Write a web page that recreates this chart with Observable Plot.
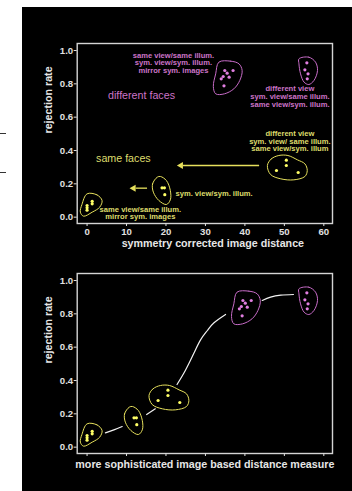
<!DOCTYPE html>
<html><head><meta charset="utf-8">
<script src="https://cdn.jsdelivr.net/npm/d3@7"></script>
<script src="https://cdn.jsdelivr.net/npm/@observablehq/plot@0.6"></script>
<style>
body{margin:0;background:#fff;width:352px;height:491px;overflow:hidden;position:relative;font-family:"Liberation Sans",Arial,sans-serif}
#bg{position:absolute;left:22px;top:7px;width:330px;height:484px;background:#000}
.dash{position:absolute;left:0;width:6px;height:1px;background:#333}
#p1,#p2{position:absolute;left:22px}
#p1{top:30px}
#p2{top:260px}
</style></head><body>
<div id="bg"></div>
<div class="dash" style="top:133px"></div>
<div class="dash" style="top:172px"></div>
<div id="p1"></div>
<div id="p2"></div>
<script>
// ---- data ----
const yTicks = [0, 0.2, 0.4, 0.6, 0.8, 1.0];
const xTicks = [0, 10, 20, 30, 40, 50, 60];
const xTitleTop = "symmetry corrected image distance";
const xTitleBottom = "more sophisticated image based distance measure";
const yTitle = "rejection rate";

const groupNames = ["g1", "g2", "g3", "pA", "pB"];
const groupKind = ["same", "same", "same", "diff", "diff"];
// horizontal position change of each group in the lower chart
const groupShiftBottom = [0, -7.1, -30, 4.6, 0];

const pointGroup = ["g1","g1","g1","g1","g1","g2","g2","g2","g3","g3","g3","g3",
  "pA","pA","pA","pA","pA","pA","pA","pB","pB","pB","pB"];
const pointX = [0, 0, 0, 1.3, 1.3, 19.0, 19.6, 19.7, 48.0, 50.5, 50.5, 53.5,
  34.9, 35.5, 34.5, 36.0, 34.0, 37.0, 34.7, 55.7, 55.2, 56.0, 55.8];
const pointY = [0.07, 0.056, 0.042, 0.095, 0.08, 0.176, 0.176, 0.135, 0.28, 0.342, 0.31, 0.268,
  0.88, 0.864, 0.844, 0.84, 0.83, 0.88, 0.788, 0.926, 0.884, 0.86, 0.83];

// hand-drawn outlines around each group
const loopGroup = ["g1","g1","g1","g1","g1","g1","g1","g1",
  "g2","g2","g2","g2","g2","g2","g2","g2","g2",
  "g3","g3","g3","g3","g3","g3","g3","g3","g3","g3","g3",
  "pA","pA","pA","pA","pA","pA","pA","pA","pA","pA",
  "pB","pB","pB","pB","pB","pB","pB","pB","pB"];
const loopX = [0, 2.5, 3.8, 3.2, 1.3, -0.9, -1.7, -1.3,
  17.8, 16.6, 16.8, 18.2, 20.1, 21.1, 21.1, 20.1, 18.6,
  45.7, 46.7, 48.6, 50.9, 53.3, 55.2, 55.8, 55.2, 52.4, 49.1, 46.5,
  33.4, 36.4, 38.5, 39.3, 38.7, 37.2, 34.8, 32.6, 32.0, 32.6,
  53.7, 56.2, 57.9, 58.4, 57.5, 56.2, 55.0, 54.1, 53.7];
const loopY = [0.14, 0.134, 0.10, 0.06, 0.03, 0.006, 0.03, 0.076,
  0.24, 0.20, 0.15, 0.10, 0.076, 0.104, 0.16, 0.22, 0.244,
  0.31, 0.35, 0.37, 0.37, 0.344, 0.32, 0.28, 0.244, 0.224, 0.23, 0.256,
  0.93, 0.936, 0.92, 0.88, 0.82, 0.77, 0.74, 0.74, 0.784, 0.86,
  0.95, 0.96, 0.93, 0.88, 0.82, 0.796, 0.81, 0.86, 0.92];

// white trend curve in the lower chart (segments between groups)
const curveSeg = ["a","a","a","b","b","c","c","c","c","c","c","c","d","d","d","d"];
const curveX = [4.65, 6.8, 8.9, 15.1, 17.3, 22.8, 24.9, 27.0, 28.8, 30.5, 32.1, 35.1, 44.4, 46.5, 49.1, 52.3];
const curveY = [0.086, 0.104, 0.124, 0.196, 0.23, 0.376, 0.46, 0.56, 0.645, 0.70, 0.745, 0.796, 0.88, 0.90, 0.912, 0.916];

// annotations (upper chart)
const noteText = [
  "same view/same illum.\nsym. view/sym. illum.\nmirror sym. images",
  "different faces",
  "different view\nsym. view/same illum.\nsame view/sym. illum.",
  "different view\nsym. view/ same illum.\nsame view/sym. illum",
  "same faces",
  "sym. view/sym. illum.",
  "same view/same illum.\nmirror sym. images"];
const noteKind = ["diff", "diff", "diff", "same", "same", "same", "same"];
const noteX = [21.9, 13.8, 51.4, 51.4, 9.2, 22.4, 13.5];
const noteY = [0.926, 0.736, 0.724, 0.455, 0.356, 0.144, 0.025];
const noteBig = [false, true, false, false, true, false, false];
const noteAnchor = ["middle", "middle", "middle", "middle", "middle", "start", "middle"];

// arrows (upper chart)
const arrowX1 = [43.6, 15.2];
const arrowX2 = [22.8, 10.8];
const arrowY = [0.31, 0.174];

// ---- drawing ----
const pinkDot = "#e07ee0", pinkLine = "#c86cc8", pinkText = "#cc74c8";
const yellowDot = "#ffff66", yellowLine = "#e6e05c", yellowText = "#dedc6c";
const font = "'Liberation Sans', Arial, Helvetica, sans-serif";

function chart(bottom) {
  const shift = Object.fromEntries(groupNames.map((g, i) => [g, bottom ? groupShiftBottom[i] : 0]));
  const kind = Object.fromEntries(groupNames.map((g, i) => [g, groupKind[i]]));
  const pts = pointX.map((x, i) => ({g: pointGroup[i], x: x + shift[pointGroup[i]], y: pointY[i], k: kind[pointGroup[i]]}));
  const loops = loopX.map((x, i) => ({g: loopGroup[i], x: x + shift[loopGroup[i]], y: loopY[i], k: kind[loopGroup[i]]}));
  const marks = [
    Plot.frame({stroke: "#d4d4d4", strokeWidth: 1.4}),
    Plot.axisY({ticks: yTicks, tickFormat: ".1f", tickSize: 3, tickPadding: 1, fontSize: 9.6, fontWeight: "bold", label: null}),
    Plot.axisX({ticks: xTicks, tickSize: 3, tickPadding: 2, fontSize: 9.6, fontWeight: "bold", label: null,
      tickFormat: bottom ? () => "" : d => String(d)}),
    Plot.text([yTitle], {text: d => d, frameAnchor: "left", rotate: -90, dx: -28.4, fontSize: 10.7, fontWeight: "bold", fill: "#e6e6e6"}),
    Plot.text([bottom ? xTitleBottom : xTitleTop], {text: d => d, frameAnchor: "bottom", dy: bottom ? 14.4 : 23.5, dx: bottom ? 0 : 8,
      fontSize: 10.7, fontWeight: "bold", fill: "#e6e6e6"}),
    Plot.line(loops.filter(d => d.k === "same"), {x: "x", y: "y", z: "g", curve: "catmull-rom-closed", stroke: yellowLine, strokeWidth: 1}),
    Plot.line(loops.filter(d => d.k === "diff"), {x: "x", y: "y", z: "g", curve: "catmull-rom-closed", stroke: pinkLine, strokeWidth: 1}),
    Plot.dot(pts, {x: "x", y: "y", r: 1.6, fill: d => d.k === "same" ? yellowDot : pinkDot, stroke: null})
  ];
  if (bottom) {
    const curve = curveX.map((x, i) => ({s: curveSeg[i], x, y: curveY[i]}));
    marks.push(Plot.line(curve, {x: "x", y: "y", z: "s", curve: "natural", stroke: "#f2f2f2", strokeWidth: 1.2}));
  } else {
    const notes = noteText.map((t, i) => ({t, k: noteKind[i], x: noteX[i], y: noteY[i], big: noteBig[i], a: noteAnchor[i]}));
    for (const big of [true, false]) for (const a of ["middle", "start"]) {
      const sub = notes.filter(d => d.big === big && d.a === a);
      if (!sub.length) continue;
      marks.push(Plot.text(sub, {x: "x", y: "y", text: "t", textAnchor: a, lineAnchor: "middle",
        fill: d => d.k === "same" ? yellowText : pinkText,
        fontSize: big ? 10.7 : 7.6, fontWeight: big ? "normal" : "bold", lineHeight: big ? 1.2 : 1.0}));
    }
    const arrows = arrowX1.map((x1, i) => ({x1, x2: arrowX2[i], y: arrowY[i]}));
    marks.push(Plot.link(arrows, {x1: d => d.x1, x2: d => d.x2 + 1.5, y1: "y", y2: "y", stroke: yellowLine, strokeWidth: 1.3}));
    marks.push(Plot.dot(arrows, {x: "x2", y: "y", symbol: "triangle", rotate: -90, r: 2.6, dx: 3.9, fill: yellowLine, stroke: null}));
  }
  return Plot.plot({
    width: 330, height: 223,
    marginLeft: 54.7, marginRight: 20, marginTop: 13, marginBottom: 30,
    x: {domain: [-2.5, 62.2]},
    y: {domain: [-0.038, 1.042]},
    style: {background: "transparent", color: "#e0e0e0", fontFamily: font, overflow: "visible"},
    marks
  });
}
document.getElementById("p1").appendChild(chart(false));
document.getElementById("p2").appendChild(chart(true));
</script>
</body></html>
